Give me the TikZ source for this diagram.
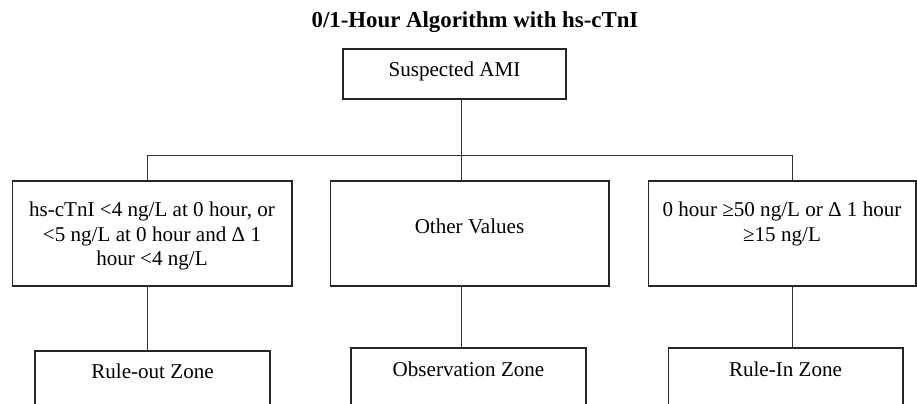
\documentclass[tikz,border=0pt]{standalone}
\usepackage{fontspec}
\setmainfont{Liberation Serif}
\usetikzlibrary{%
  positioning,%
  calc%
}

\begin{document}
\begin{tikzpicture}
[x=0.02cm, y=-0.02cm,
box/.style={rectangle, draw=black!85, line width=0.6pt, inner sep=0pt, align=center,
  font=\fontsize{12}{14.2}\selectfont, text height=0.3cm},
link/.style={draw=black!80, line width=0.5pt}]

\clip (0,0) rectangle (917,403);

\node[font=\fontsize{13}{15}\selectfont\bfseries, anchor=base] (title) at (475,27)
  {0/1-Hour Algorithm with hs-cTnI};

\node[box, minimum width=4.46cm, minimum height=1.0cm, text depth=0.19cm] (ami) at (454.5,74)
  {Suspected AMI};

\node[box, minimum width=5.6cm, minimum height=2.1cm, text height=1.4cm, text depth=0.1cm] (low) at (152,233.5)
  {hs-cTnI <4 ng/L at 0 hour, or\\<5 ng/L at 0 hour and Δ 1\\hour <4 ng/L};
\node[box, minimum width=5.58cm, minimum height=2.1cm, text depth=0.32cm] (other) at (469.5,233.5)
  {Other Values};
\node[box, minimum width=5.36cm, minimum height=2.1cm, text height=0.4cm, text depth=0.1cm] (high) at (782,233.5)
  {0 hour ≥50 ng/L or Δ 1 hour\\≥15 ng/L};

\node[box, minimum width=4.7cm, minimum height=1.4cm, text depth=0.61cm] (ruleout) at (152.5,386)
  {Rule-out Zone};
\node[box, minimum width=4.7cm, minimum height=1.4cm, text depth=0.58cm] (observe) at (468.5,383)
  {Observation Zone};
\node[box, minimum width=4.7cm, minimum height=1.4cm, text depth=0.58cm] (rulein) at (785.5,383)
  {Rule-In Zone};

% bus
\coordinate (busL) at (147,155);
\coordinate (busM) at (461,155);
\coordinate (busR) at (792,155);

\draw[link] (ami.south -| busM) -- (busM);
\draw[link] (busL) -- (busR);
\draw[link] (busL) -- (low.north -| busL);
\draw[link] (busM) -- (other.north -| busM);
\draw[link] (busR) -- (high.north -| busR);
\draw[link] (low.south -| busL) -- (ruleout.north -| busL);
\draw[link] (other.south -| busM) -- (observe.north -| busM);
\draw[link] (high.south -| busR) -- (rulein.north -| busR);
\end{tikzpicture}
\end{document}
